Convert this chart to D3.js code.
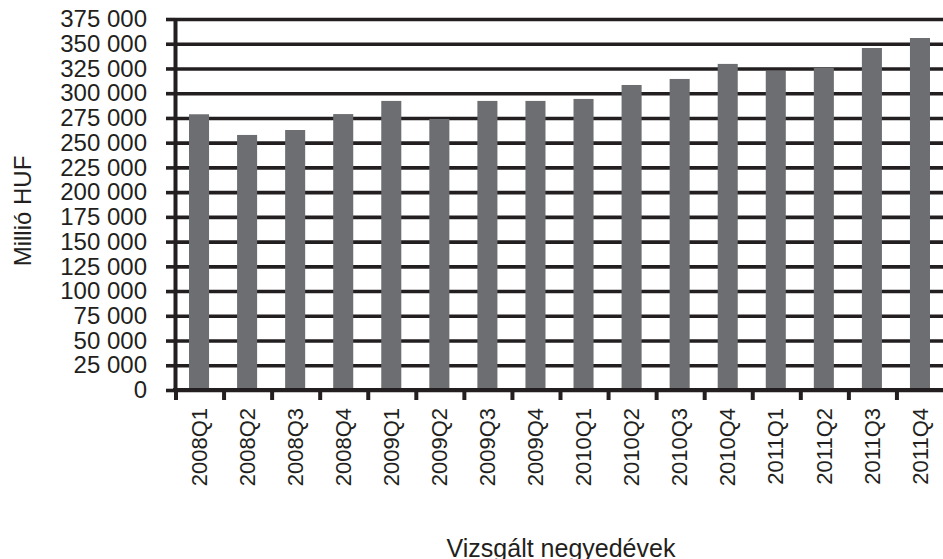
<!DOCTYPE html>
<html>
<head>
<meta charset="utf-8">
<script src="https://cdn.jsdelivr.net/npm/d3@7"></script>
<style>
    body { margin: 0; background: #fff; }
    text { font-family: "Liberation Sans", Arial, sans-serif; fill: #231f20; }
</style>
</head>
<body>
<svg id="chart" width="943" height="559"></svg>
<script>
// quarters on the x axis
const quarters = ['2008Q1', '2008Q2', '2008Q3', '2008Q4',
    '2009Q1', '2009Q2', '2009Q3', '2009Q4',
    '2010Q1', '2010Q2', '2010Q3', '2010Q4',
    '2011Q1', '2011Q2', '2011Q3', '2011Q4'];

// Millió HUF
const values = [278700, 257800, 262800, 278900,
    292200, 274000, 292200, 292200,
    294200, 308300, 314400, 329600,
    322500, 325500, 345700, 355800];

const yTicks = d3.range(0, 375001, 25000);

const yTitle = 'Millió HUF';
const xTitle = 'Vizsgált negyedévek';

var svg = d3.select('#chart');

var plotLeft = 175, plotRight = 943, plotTop = 19, plotBottom = 390;

var fmt = function (d) {
    return d3.format(',')(d).replace(/,/g, ' ');
};

// band for category slots, and band for the bars inside them
var xSlot = d3.scaleBand()
    .domain(quarters)
    .range([plotLeft, plotRight + 1])
    .padding(0);

var x = d3.scaleBand()
    .domain(quarters)
    .range([plotLeft, plotRight + 1])
    .paddingInner(0.583)
    .paddingOuter(0.2915);

var y = d3.scaleLinear()
    .domain([0, 375000])
    .range([plotBottom, plotTop]);

// gridlines
var grid = svg.append('g')
    .attr('transform', 'translate(' + plotLeft + ',0)')
    .call(d3.axisLeft(y).tickValues(yTicks).tickSize(-(plotRight - plotLeft)).tickFormat(''));
grid.select('.domain').remove();
grid.selectAll('line')
    .attr('stroke', '#231f20')
    .attr('stroke-width', 3.6);

// bars
svg.append('g')
    .selectAll('rect')
    .data(values)
    .enter()
    .append('rect')
    .attr('x', (d, i) => x(quarters[i]))
    .attr('y', d => y(d))
    .attr('width', x.bandwidth())
    .attr('height', d => plotBottom - y(d))
    .attr('fill', '#6d6e71');

// y axis
var yAxis = svg.append('g')
    .attr('transform', 'translate(' + plotLeft + ',0)')
    .call(d3.axisLeft(y).tickValues(yTicks).tickSize(9).tickSizeOuter(0).tickPadding(19).tickFormat(fmt));
yAxis.select('.domain')
    .attr('stroke', '#231f20')
    .attr('stroke-width', 4);
yAxis.selectAll('line')
    .attr('stroke', '#231f20')
    .attr('stroke-width', 3.6);
yAxis.selectAll('text')
    .style('font-size', '24px')
    .attr('fill', '#231f20');

// x axis line and ticks at slot boundaries
var xAxis = svg.append('g')
    .attr('transform', 'translate(0,' + plotBottom + ')');
xAxis.append('line')
    .attr('x1', plotLeft - 2)
    .attr('x2', plotRight)
    .attr('stroke', '#231f20')
    .attr('stroke-width', 4);
xAxis.selectAll('.tickmark')
    .data(quarters)
    .enter()
    .append('line')
    .attr('class', 'tickmark')
    .attr('x1', d => xSlot(d) + 1)
    .attr('x2', d => xSlot(d) + 1)
    .attr('y1', 0)
    .attr('y2', 10)
    .attr('stroke', '#231f20')
    .attr('stroke-width', 4);

// x labels
var xLabels = svg.append('g')
    .attr('transform', 'translate(0,' + plotBottom + ')')
    .call(d3.axisBottom(x).tickSize(0).tickPadding(0));
xLabels.select('.domain').remove();
xLabels.selectAll('text')
    .style('font-size', '22px')
    .attr('fill', '#231f20')
    .attr('text-anchor', 'end')
    .attr('transform', 'rotate(-90)')
    .attr('x', -18)
    .attr('y', 0)
    .attr('dy', '0.35em');

// axis titles
svg.append('text')
    .attr('transform', 'translate(31,211) rotate(-90)')
    .attr('text-anchor', 'middle')
    .style('font-size', '24px')
    .text(yTitle);

svg.append('text')
    .attr('x', 561)
    .attr('y', 557)
    .attr('text-anchor', 'middle')
    .style('font-size', '25px')
    .text(xTitle);
</script>
</body>
</html>
